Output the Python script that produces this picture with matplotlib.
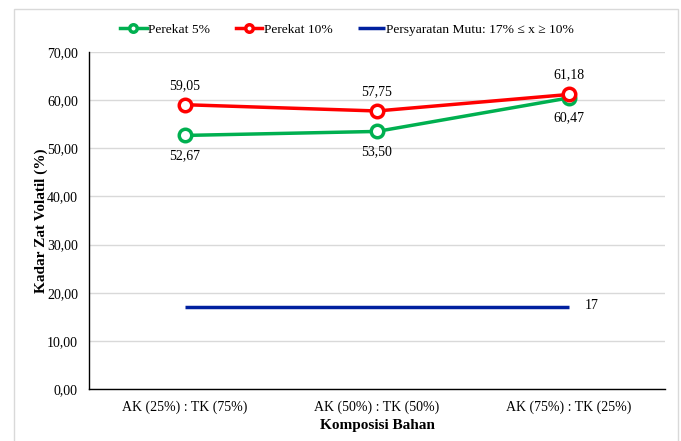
import matplotlib
matplotlib.use("Agg")
import matplotlib.pyplot as plt
from matplotlib.patches import Rectangle

categories = ["AK (25%) : TK (75%)", "AK (50%) : TK (50%)", "AK (75%) : TK (25%)"]
perekat_5 = [52.67, 53.50, 60.47]
perekat_10 = [59.05, 57.75, 61.18]
persyaratan = [17, 17, 17]
y_ticks = [0, 10, 20, 30, 40, 50, 60, 70]

plt.rcParams["font.family"] = ["Liberation Serif", "DejaVu Serif"]

W, H = 681, 441
fig = plt.figure(figsize=(W / 100, H / 100), dpi=100)
ax = fig.add_axes([89 / W, 1 - 389 / H, (665 - 89) / W, (389 - 52) / H])

# outer chart border
fig.patches.append(Rectangle((14 / W, -0.05), (678 - 14) / W, 1.05 - 9 / H,
                             transform=fig.transFigure, fill=False,
                             edgecolor="#D9D9D9", linewidth=1.0))

x = list(range(len(categories)))
green, red, blue = "#00B050", "#FF0000", "#00209F"

ax.plot(x, persyaratan, color=blue, linewidth=2.5, solid_capstyle="butt",
        label="Persyaratan Mutu: 17% \u2264 x \u2265 10%", zorder=3)
ax.plot(x, perekat_5, color=green, linewidth=2.5, marker="o", markersize=9,
        markerfacecolor="white", markeredgewidth=2.5, markeredgecolor=green,
        label="Perekat 5%", zorder=4)
ax.plot(x, perekat_10, color=red, linewidth=2.5, marker="o", markersize=9,
        markerfacecolor="white", markeredgewidth=2.5, markeredgecolor=red,
        label="Perekat 10%", zorder=5)

def fmt(v):
    return f"{v:.2f}".replace(".", ",")

for xi, v in zip(x, perekat_10):
    ax.annotate(fmt(v), (xi, v), xytext=(0, 14), textcoords="offset points",
                ha="center", va="center", fontsize=10)
for xi, v in zip(x, perekat_5):
    ax.annotate(fmt(v), (xi, v), xytext=(0, -14.5), textcoords="offset points",
                ha="center", va="center", fontsize=10)
ax.annotate(str(persyaratan[-1]), (x[-1], persyaratan[-1]), xytext=(11, 1),
            textcoords="offset points", ha="left", va="center", fontsize=10)

ax.set_xlim(-0.5, len(categories) - 0.5)
ax.set_ylim(0, 70)
ax.set_yticks(y_ticks)
ax.set_yticklabels([fmt(t) for t in y_ticks], fontsize=10)
ax.set_xticks(x)
ax.set_xticklabels(categories, fontsize=10)
ax.tick_params(length=0, pad=8)
ax.tick_params(axis="y", pad=8)

ax.grid(axis="y", color="#D9D9D9", linewidth=1.0)
ax.set_axisbelow(True)
for s in ["top", "right"]:
    ax.spines[s].set_visible(False)
for s in ["left", "bottom"]:
    ax.spines[s].set_color("black")
    ax.spines[s].set_linewidth(1.0)

ax.set_ylabel("Kadar Zat Volatil (%)", fontsize=11, fontweight="bold", labelpad=-1)
ax.set_xlabel("Komposisi Bahan", fontsize=11, fontweight="bold", labelpad=4)

handles, labels = ax.get_legend_handles_labels()
order = [1, 2, 0]
leg = fig.legend([handles[i] for i in order], [labels[i] for i in order],
                 loc="center", bbox_to_anchor=(347 / W, 1 - 30 / H), ncol=3,
                 frameon=False, fontsize=9.7, handlelength=2.0, handletextpad=0.1,
                 columnspacing=1.9, markerscale=0.6)

fig.savefig("out.png", dpi=100)
